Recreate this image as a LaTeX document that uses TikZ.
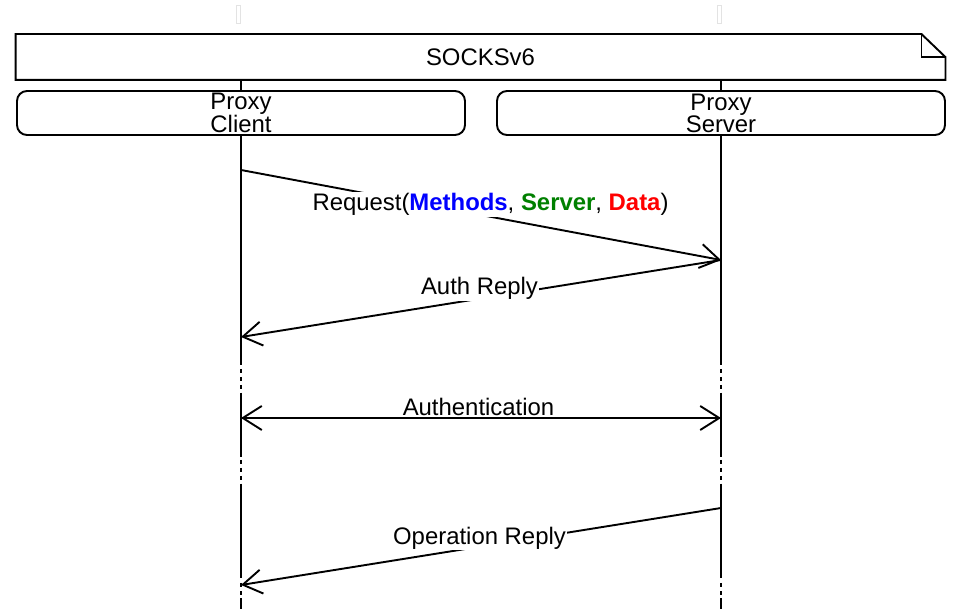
\documentclass[tikz,border=0pt]{standalone}
\usepackage{fontspec}
\setmainfont{Liberation Sans}
\usetikzlibrary{arrows.meta}
\definecolor{mblue}{RGB}{0,0,255}
\definecolor{mgreen}{RGB}{0,128,0}
\definecolor{mred}{RGB}{255,0,0}
\begin{document}
\begin{tikzpicture}[x=1pt,y=-1pt,
  line width=1.9pt,
  every node/.style={font=\fontsize{23.9}{22}\selectfont, inner sep=0pt},
  part/.style={draw, rounded corners=10pt, minimum width=448pt, minimum height=44pt, align=center},
  msg/.style={-{Straight Barb[length=19pt,width=24pt]}},
  dmsg/.style={{Straight Barb[length=19pt,width=24pt]}-{Straight Barb[length=19pt,width=24pt]}},
  lbl/.style={fill=white, inner xsep=1.5pt, inner ysep=1.5pt, anchor=base},
  dots/.style={dash pattern=on 4pt off 4pt},
  faint/.style={draw=gray!22, line width=0.6pt},
]
\useasboundingbox (0,0) rectangle (954,609);

% faint marks at top
\draw[faint] (236.5,5) rectangle (240.5,23);
\draw[faint] (717,5) rectangle (721,23);

% frame
\node[minimum width=928pt, minimum height=44pt] (frame) at (480.5,57) {SOCKSv6};
\draw (frame.south west) -- (frame.north west) -- ([xshift=-24pt]frame.north east)
      -- ([yshift=-23pt]frame.north east) -- (frame.south east) -- cycle;
\draw ([xshift=-24pt]frame.north east) |- ([yshift=-23pt]frame.north east);

% participants
\node[part] (pc) at (241,113) {Proxy\\Client};
\node[part] (ps) at (721,113) {Proxy\\Server};

% lifelines
\foreach \p in {pc,ps}{
  \draw (frame.south -| \p.south) -- (\p.north);
  \draw (\p.south) -- (\p.south |- 0,365);
  \draw[dots] (\p.south |- 0,369) -- (\p.south |- 0,393);
  \draw (\p.south |- 0,393) -- (\p.south |- 0,457);
  \draw[dots] (\p.south |- 0,460) -- (\p.south |- 0,484);
  \draw (\p.south |- 0,484) -- (\p.south |- 0,578);
  \draw[dots] (\p.south |- 0,583) -- (\p.south |- 0,598);
  \draw (\p.south |- 0,598) -- (\p.south |- 0,609);
}

% message end points
\coordinate (m1a) at (pc.south |- 0,170);
\coordinate (m1b) at (ps.south |- 0,260);
\coordinate (m2b) at (pc.south |- 0,337);
\coordinate (m3a) at (pc.south |- 0,418);
\coordinate (m3b) at (ps.south |- 0,418);
\coordinate (m4a) at (ps.south |- 0,508);
\coordinate (m4b) at (pc.south |- 0,585);

% Request
\draw[msg] (m1a) -- (m1b);
\node[lbl] (l1) at (490.5,211) {Request(\textbf{\color{mblue}Methods}, \textbf{\color{mgreen}Server}, \textbf{\color{mred}Data})};

% Auth Reply
\draw[msg] (m1b) -- (m2b);
\node[lbl] (l2) at (479.5,295) {Auth Reply};

% Authentication
\node[lbl, inner ysep=0.3pt] (l3) at (478.5,416) {Authentication};
\draw[dmsg] (m3a) -- (m3b);

% Operation Reply
\draw[msg] (m4a) -- (m4b);
\node[lbl] (l4) at (479.5,544) {Operation Reply};
\end{tikzpicture}
\end{document}
